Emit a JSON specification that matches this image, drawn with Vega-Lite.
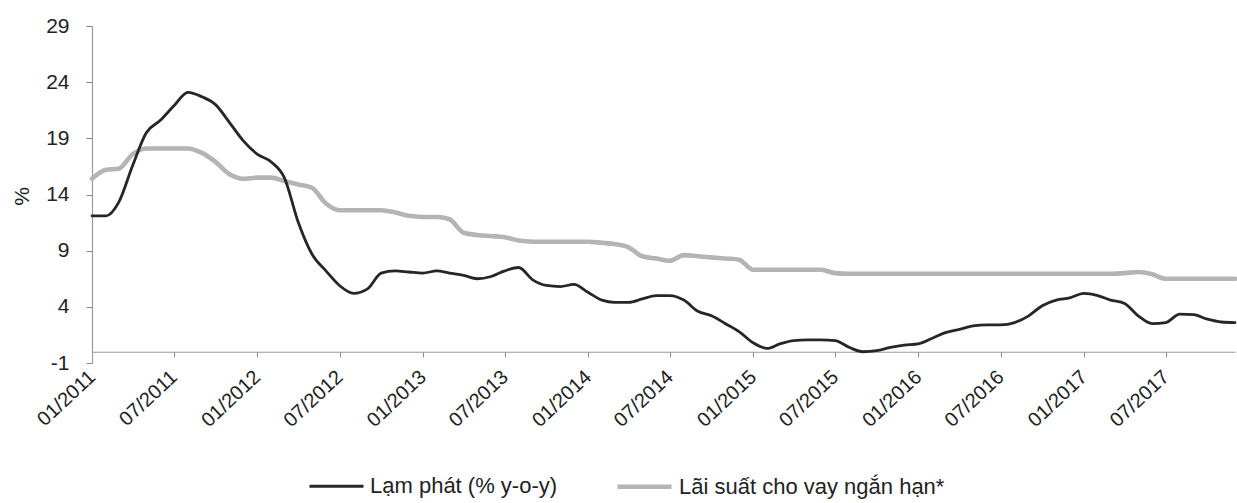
{
  "$schema": "https://vega.github.io/schema/vega-lite/v6.json",
  "width": 1143,
  "height": 337,
  "autosize": {"type": "none"},
  "padding": {"left": 92, "top": 26, "right": 2, "bottom": 140},
  "background": "white",
  "config": {
    "font": "Liberation Sans",
    "view": {"stroke": null},
    "axis": {"grid": false, "labelColor": "#222", "titleColor": "#222"}
  },
  "data": {
    "values": [
      {"d":"2011-01-01T00:00","a":12.1,"b":15.4},
      {"d":"2011-02-01T00:00","a":12.1,"b":16.2},
      {"d":"2011-03-01T00:00","a":13.3,"b":16.3},
      {"d":"2011-04-01T00:00","a":16.6,"b":17.6},
      {"d":"2011-05-01T00:00","a":19.5,"b":18.1},
      {"d":"2011-06-01T00:00","a":20.6,"b":18.1},
      {"d":"2011-07-01T00:00","a":21.9,"b":18.1},
      {"d":"2011-08-01T00:00","a":23.1,"b":18.1},
      {"d":"2011-09-01T00:00","a":22.7,"b":17.7},
      {"d":"2011-10-01T00:00","a":22.0,"b":16.9},
      {"d":"2011-11-01T00:00","a":20.4,"b":15.8},
      {"d":"2011-12-01T00:00","a":18.8,"b":15.4},
      {"d":"2012-01-01T00:00","a":17.6,"b":15.5},
      {"d":"2012-02-01T00:00","a":16.9,"b":15.5},
      {"d":"2012-03-01T00:00","a":15.5,"b":15.2},
      {"d":"2012-04-01T00:00","a":11.5,"b":14.9},
      {"d":"2012-05-01T00:00","a":8.7,"b":14.6},
      {"d":"2012-06-01T00:00","a":7.2,"b":13.2},
      {"d":"2012-07-01T00:00","a":5.9,"b":12.6},
      {"d":"2012-08-01T00:00","a":5.2,"b":12.6},
      {"d":"2012-09-01T00:00","a":5.6,"b":12.6},
      {"d":"2012-10-01T00:00","a":7.0,"b":12.6},
      {"d":"2012-11-01T00:00","a":7.2,"b":12.4},
      {"d":"2012-12-01T00:00","a":7.1,"b":12.1},
      {"d":"2013-01-01T00:00","a":7.0,"b":12.0},
      {"d":"2013-02-01T00:00","a":7.2,"b":12.0},
      {"d":"2013-03-01T00:00","a":7.0,"b":11.8},
      {"d":"2013-04-01T00:00","a":6.8,"b":10.6},
      {"d":"2013-05-01T00:00","a":6.5,"b":10.4},
      {"d":"2013-06-01T00:00","a":6.7,"b":10.3},
      {"d":"2013-07-01T00:00","a":7.2,"b":10.2},
      {"d":"2013-08-01T00:00","a":7.5,"b":9.9},
      {"d":"2013-09-01T00:00","a":6.4,"b":9.8},
      {"d":"2013-10-01T00:00","a":5.9,"b":9.8},
      {"d":"2013-11-01T00:00","a":5.8,"b":9.8},
      {"d":"2013-12-01T00:00","a":6.0,"b":9.8},
      {"d":"2014-01-01T00:00","a":5.3,"b":9.8},
      {"d":"2014-02-01T00:00","a":4.6,"b":9.7},
      {"d":"2014-03-01T00:00","a":4.4,"b":9.6},
      {"d":"2014-04-01T00:00","a":4.4,"b":9.3},
      {"d":"2014-05-01T00:00","a":4.7,"b":8.5},
      {"d":"2014-06-01T00:00","a":5.0,"b":8.3},
      {"d":"2014-07-01T00:00","a":5.0,"b":8.1},
      {"d":"2014-08-01T00:00","a":4.6,"b":8.6},
      {"d":"2014-09-01T00:00","a":3.6,"b":8.5},
      {"d":"2014-10-01T00:00","a":3.2,"b":8.4},
      {"d":"2014-11-01T00:00","a":2.5,"b":8.3},
      {"d":"2014-12-01T00:00","a":1.8,"b":8.2},
      {"d":"2015-01-01T00:00","a":0.8,"b":7.3},
      {"d":"2015-02-01T00:00","a":0.3,"b":7.3},
      {"d":"2015-03-01T00:00","a":0.7,"b":7.3},
      {"d":"2015-04-01T00:00","a":1.0,"b":7.3},
      {"d":"2015-05-01T00:00","a":1.05,"b":7.3},
      {"d":"2015-06-01T00:00","a":1.05,"b":7.3},
      {"d":"2015-07-01T00:00","a":1.0,"b":7.0},
      {"d":"2015-08-01T00:00","a":0.4,"b":6.95},
      {"d":"2015-09-01T00:00","a":0.0,"b":6.95},
      {"d":"2015-10-01T00:00","a":0.1,"b":6.95},
      {"d":"2015-11-01T00:00","a":0.4,"b":6.95},
      {"d":"2015-12-01T00:00","a":0.6,"b":6.95},
      {"d":"2016-01-01T00:00","a":0.7,"b":6.95},
      {"d":"2016-02-01T00:00","a":1.2,"b":6.95},
      {"d":"2016-03-01T00:00","a":1.7,"b":6.95},
      {"d":"2016-04-01T00:00","a":2.0,"b":6.95},
      {"d":"2016-05-01T00:00","a":2.3,"b":6.95},
      {"d":"2016-06-01T00:00","a":2.4,"b":6.95},
      {"d":"2016-07-01T00:00","a":2.4,"b":6.95},
      {"d":"2016-08-01T00:00","a":2.6,"b":6.95},
      {"d":"2016-09-01T00:00","a":3.2,"b":6.95},
      {"d":"2016-10-01T00:00","a":4.1,"b":6.95},
      {"d":"2016-11-01T00:00","a":4.6,"b":6.95},
      {"d":"2016-12-01T00:00","a":4.8,"b":6.95},
      {"d":"2017-01-01T00:00","a":5.2,"b":6.95},
      {"d":"2017-02-01T00:00","a":5.0,"b":6.95},
      {"d":"2017-03-01T00:00","a":4.6,"b":6.95},
      {"d":"2017-04-01T00:00","a":4.3,"b":7.0},
      {"d":"2017-05-01T00:00","a":3.2,"b":7.1},
      {"d":"2017-06-01T00:00","a":2.5,"b":6.9},
      {"d":"2017-07-01T00:00","a":2.6,"b":6.5},
      {"d":"2017-08-01T00:00","a":3.35,"b":6.5},
      {"d":"2017-09-01T00:00","a":3.3,"b":6.5},
      {"d":"2017-10-01T00:00","a":2.9,"b":6.5},
      {"d":"2017-11-01T00:00","a":2.65,"b":6.5},
      {"d":"2017-12-01T00:00","a":2.6,"b":6.5}
    ]
  },
  "transform": [
    {"fold": ["b", "a"], "as": ["key", "value"]},
    {"lookup": "key", "from": {"data": {"values": [
      {"key": "a", "series": "Lạm phát (% y-o-y)", "ord": 1},
      {"key": "b", "series": "Lãi suất cho vay ngắn hạn*", "ord": 0}
    ]}, "key": "key", "fields": ["series", "ord"]}}
  ],
  "layer": [
    {
      "mark": {"type": "line", "interpolate": "monotone", "strokeCap": "round"},
      "encoding": {
        "x": {
          "field": "d", "type": "temporal",
          "scale": {"domain": [{"year": 2011, "month": 1, "date": 1}, {"year": 2017, "month": 12, "date": 1}]},
          "axis": {
            "title": null,
            "format": "%m/%Y",
            "tickCount": {"interval": "month", "step": 6},
            "offset": -11.23,
            "domainColor": "#9a9a9a",
            "domainWidth": 1.2,
            "tickColor": "#888",
            "tickSize": 5,
            "labelAngle": -43,
            "labelAlign": "right",
            "labelBaseline": "middle",
            "labelPadding": 17,
            "labelDx": 15,
            "labelFontSize": 20,
            "labelOverlap": false,
            "labelFlush": false
          }
        },
        "y": {
          "field": "value", "type": "quantitative",
          "scale": {"domain": [-1, 29], "nice": false, "zero": false},
          "axis": {
            "title": "%",
            "values": [-1, 4, 9, 14, 19, 24, 29],
            "labelExpr": "datum.value < 0 ? '-' + abs(datum.value) : datum.label",
            "domainColor": "#9a9a9a",
            "domainWidth": 1.2,
            "tickColor": "#888",
            "tickSize": 6,
            "labelPadding": 17,
            "labelFontSize": 21,
            "titleFontSize": 21,
            "titleFontWeight": "normal",
            "titleAngle": -90,
            "titleX": -70,
            "titleY": 170,
            "titleAlign": "center",
            "titleBaseline": "middle"
          }
        },
        "color": {
          "field": "series", "type": "nominal",
          "scale": {"domain": ["Lạm phát (% y-o-y)", "Lãi suất cho vay ngắn hạn*"], "range": ["#262626", "#b4b4b4"]},
          "legend": {
            "title": null,
            "orient": "none",
            "direction": "horizontal",
            "legendX": 216,
            "legendY": 431,
            "symbolType": "stroke",
            "symbolSize": 2916,
            "labelFontSize": 22,
            "labelColor": "#222",
            "labelOffset": 5,
            "labelLimit": 400,
            "columnPadding": 50
          }
        },
        "strokeWidth": {
          "field": "series", "type": "nominal",
          "scale": {"domain": ["Lạm phát (% y-o-y)", "Lãi suất cho vay ngắn hạn*"], "range": [2.8, 4.6]},
          "legend": {
            "title": null,
            "orient": "none",
            "direction": "horizontal",
            "legendX": 216,
            "legendY": 431,
            "symbolType": "stroke",
            "symbolSize": 2916,
            "labelFontSize": 22,
            "labelColor": "#222",
            "labelOffset": 5,
            "labelLimit": 400,
            "columnPadding": 50
          }
        },
        "order": {"field": "ord", "type": "quantitative"}
      }
    }
  ]
}
